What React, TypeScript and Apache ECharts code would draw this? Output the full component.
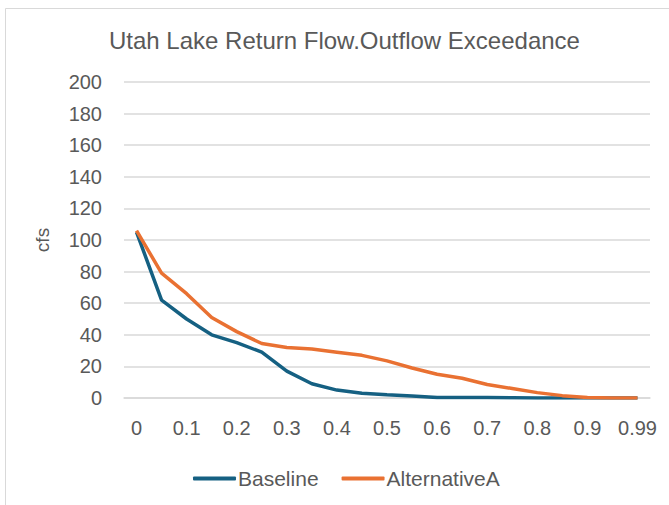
import React, { useEffect, useRef } from "react";
import * as echarts from "echarts";

const categories = [
  "0", "0.05", "0.1", "0.15", "0.2", "0.25", "0.3", "0.35", "0.4", "0.45",
  "0.5", "0.55", "0.6", "0.65", "0.7", "0.75", "0.8", "0.85", "0.9", "0.95", "0.99",
];
const baseline = [105, 62, 50, 40, 35, 29, 17, 9, 5, 3, 2, 1.3, 0.3, 0.3, 0.3, 0.2, 0, 0, 0, 0, 0];
const alternativeA = [106, 79, 66, 51, 42, 34.5, 32, 31, 29, 27, 23.5, 19, 15, 12.5, 8.5, 6, 3.4, 1.5, 0.3, 0, 0];
const yTicks = { min: 0, max: 200, interval: 20 };

const FONT = "'Liberation Sans', Arial, sans-serif";
const GREY = "#595959";

export default function App() {
  const ref = useRef<HTMLDivElement>(null);
  useEffect(() => {
    if (!ref.current) return;
    const chart = echarts.init(ref.current, null, { renderer: "svg" });
    chart.setOption({
      animation: false,
      backgroundColor: "#ffffff",
      graphic: [
        {
          type: "rect",
          shape: { x: 5.5, y: 8.5, width: 700, height: 600 },
          style: { fill: "none", stroke: "#d9d9d9", lineWidth: 1 },
          silent: true,
        },
      ],
      title: {
        text: "Utah Lake Return Flow.Outflow Exceedance",
        left: 104,
        top: 23,
        textStyle: { fontFamily: FONT, fontSize: 24, fontWeight: "normal", color: GREY },
      },
      grid: { left: 124, right: 19, top: 82, bottom: 107 },
      legend: {
        top: 463,
        left: 188,
        icon: "roundRect",
        itemWidth: 43,
        itemHeight: 4,
        itemGap: 23,
        textStyle: { fontFamily: FONT, fontSize: 21, color: GREY, padding: [0, 0, 0, -3] },
        data: ["Baseline", "AlternativeA"],
      },
      xAxis: {
        type: "category",
        data: categories,
        boundaryGap: true,
        axisLine: { show: true, lineStyle: { color: "#d9d9d9", width: 1.5 } },
        axisTick: { show: false },
        axisLabel: { interval: 1, margin: 20, fontFamily: FONT, fontSize: 20, color: GREY },
      },
      yAxis: {
        type: "value",
        min: yTicks.min,
        max: yTicks.max,
        interval: yTicks.interval,
        name: "cfs",
        nameLocation: "middle",
        nameRotate: 90,
        nameGap: 72,
        nameTextStyle: { fontFamily: FONT, fontSize: 19, color: GREY },
        axisLine: { show: false },
        axisTick: { show: false },
        splitLine: { lineStyle: { color: "#d9d9d9", width: 1.5 } },
        axisLabel: { margin: 22, fontFamily: FONT, fontSize: 20, color: GREY },
      },
      series: [
        {
          name: "Baseline",
          type: "line",
          data: baseline,
          showSymbol: false,
          symbol: "none",
          color: "#156082",
          lineStyle: { width: 3.5, color: "#156082" },
        },
        {
          name: "AlternativeA",
          type: "line",
          data: alternativeA,
          showSymbol: false,
          symbol: "none",
          color: "#E97132",
          lineStyle: { width: 3.5, color: "#E97132" },
        },
      ],
    });
    return () => chart.dispose();
  }, []);
  return (
    <div
      ref={ref}
      style={{ position: "absolute", left: 0, top: 0, width: 669, height: 505 }}
    />
  );
}
